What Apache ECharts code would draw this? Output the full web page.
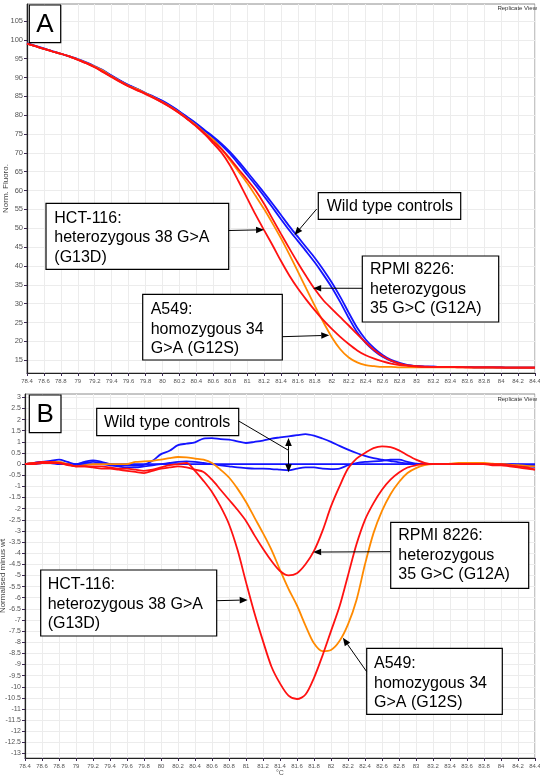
<!DOCTYPE html>
<html style="height: 100%">

<head>
  <meta charset="utf-8">
</head>

<body style="height: 100%; margin: 0; background: #fff">
  <div id="container" style="width: 540px; height: 780px"></div>
  <script type="text/javascript" src="https://cdn.jsdelivr.net/npm/echarts@6/dist/echarts.min.js"></script>
  <script type="text/javascript">
  // temperatures (°C) shared by every curve
  var temps = [78.4, 78.5, 78.6, 78.7, 78.8, 78.9, 79.0, 79.1, 79.2, 79.3, 79.4, 79.5, 79.6, 79.7, 79.8, 79.9,
    80.0, 80.1, 80.2, 80.3, 80.4, 80.5, 80.6, 80.7, 80.8, 80.9, 81.0, 81.1, 81.2, 81.3, 81.4, 81.5, 81.6, 81.7,
    81.8, 81.9, 82.0, 82.1, 82.2, 82.3, 82.4, 82.5, 82.6, 82.7, 82.8, 82.9, 83.0, 83.1, 83.2, 83.3, 83.4, 83.5,
    83.6, 83.7, 83.8, 83.9, 84.0, 84.1, 84.2, 84.3, 84.4];

  // panel A: normalised fluorescence
  var wtA1 = [99.0, 98.3, 97.6, 96.9, 96.3, 95.6, 94.8, 93.9, 92.9, 91.8, 90.4, 89.1, 87.9, 86.9, 85.8, 84.8, 83.7, 82.4, 80.9, 79.3, 77.6, 75.8,
    74.0, 72.0, 69.7, 67.0, 64.2, 61.4, 58.5, 55.5, 52.4, 49.4, 46.6, 43.8, 40.9, 37.7, 34.3, 30.4, 26.2, 22.4, 19.6, 17.5, 15.9, 14.8, 14.1, 13.6, 13.4,
    13.3, 13.3, 13.2, 13.2, 13.2, 13.2, 13.1, 13.1, 13.1, 13.1, 13.0, 13.0, 13.0, 13.0];
  var wtA2 = [99.1, 98.4, 97.7, 97.0, 96.3, 95.6, 94.9, 94.0, 93.0, 91.9, 90.5, 89.2, 88.0, 87.0, 85.9, 84.9, 83.8, 82.5, 81.0, 79.4, 77.8, 76.0,
    74.3, 72.4, 70.2, 67.7, 65.0, 62.2, 59.4, 56.5, 53.5, 50.5, 47.7, 44.9, 42.1, 39.0, 35.6, 31.8, 27.6, 23.6, 20.5, 18.2, 16.4, 15.1, 14.3, 13.7, 13.4,
    13.3, 13.3, 13.2, 13.2, 13.2, 13.2, 13.1, 13.1, 13.1, 13.1, 13.0, 13.0, 13.0, 13.0];
  var a549A = [99.0, 98.3, 97.6, 96.9, 96.3, 95.6, 94.8, 93.9, 92.9, 91.8, 90.3, 89.0, 87.8, 86.9, 85.8, 84.7, 83.5, 82.2, 80.7, 79.0, 77.3, 75.3,
    73.5, 71.0, 68.0, 65.0, 62.0, 58.6, 55.1, 51.3, 47.3, 43.0, 38.5, 33.9, 29.4, 25.1, 21.1, 17.9, 15.7, 14.4, 13.7, 13.4, 13.2, 13.2, 13.1, 13.1, 13.1,
    13.1, 13.1, 13.1, 13.1, 13.1, 13.1, 13.0, 13.0, 13.0, 13.0, 13.0, 13.0, 13.0, 13.0];
  var hctA = [99.0, 98.3, 97.6, 96.9, 96.3, 95.6, 94.7, 93.8, 92.7, 91.4, 90.1, 88.8, 87.6, 86.6, 85.6, 84.5, 83.3, 82.0, 80.5, 78.8, 77.0, 74.9,
    72.5, 70.0, 66.6, 62.4, 58.0, 53.6, 49.5, 45.5, 41.3, 37.4, 34.0, 31.0, 28.2, 25.6, 23.3, 21.2, 19.3, 17.6, 16.3, 15.4, 14.7, 14.1, 13.7, 13.5, 13.3,
    13.2, 13.2, 13.2, 13.2, 13.1, 13.1, 13.1, 13.1, 13.1, 13.0, 13.0, 13.0, 13.0, 13.0];
  var rpmiA = [99.0, 98.3, 97.6, 96.9, 96.3, 95.6, 94.7, 93.8, 92.7, 91.5, 90.2, 88.9, 87.7, 86.7, 85.7, 84.6, 83.4, 82.1, 80.6, 78.9, 77.1, 75.1,
    73.0, 70.9, 68.4, 65.6, 62.9, 60.0, 56.5, 52.5, 48.5, 44.6, 40.8, 37.2, 33.8, 30.9, 28.6, 26.4, 24.2, 21.9, 19.7, 17.7, 16.1, 14.9, 14.1, 13.6, 13.4,
    13.3, 13.2, 13.2, 13.2, 13.2, 13.1, 13.1, 13.1, 13.1, 13.1, 13.0, 13.0, 13.0, 13.0];

  // panel B: normalised minus wt
  var wtB1 = [0.0, 0.05, 0.1, 0.15, 0.2, 0.1, 0.0, 0.1, 0.17, 0.1, 0.0, -0.05, -0.05, -0.07, -0.03, 0.15, 0.45, 0.6, 0.85, 0.92, 0.98, 1.15,
    1.17, 1.12, 1.1, 1.02, 0.95, 1.0, 1.06, 1.15, 1.2, 1.25, 1.3, 1.35, 1.28, 1.15, 1.0, 0.82, 0.65, 0.5, 0.37, 0.27, 0.2, 0.14, 0.08, 0.03, 0.0,
    0.0, 0.0, 0.0, 0.0, 0.0, 0.0, 0.0, 0.0, 0.0, -0.03, -0.05, -0.08, -0.1, -0.12];
  var wtB2 = [0.0, 0.05, 0.1, 0.1, 0.05, 0.0, -0.05, 0.0, 0.0, 0.0, -0.05, -0.1, -0.15, -0.15, -0.1, -0.05, 0.0, 0.05, 0.1, 0.12, 0.1, 0.05,
    0.0, -0.05, -0.1, -0.15, -0.18, -0.2, -0.2, -0.22, -0.25, -0.28, -0.2, -0.15, -0.15, -0.2, -0.22, -0.2, -0.05, 0.05, 0.1, 0.12, 0.15, 0.2, 0.2, 0.1, 0.02,
    0.0, 0.0, 0.0, 0.0, 0.0, 0.0, 0.0, 0.0, 0.0, 0.0, 0.0, -0.02, -0.03, -0.05];
  var wtB3 = [0.0, 0.0, 0.05, 0.05, 0.0, 0.0, 0.0, 0.05, 0.1, 0.05, 0.0, 0.0, 0.0, 0.0, 0.0, 0.0, 0.0, 0.0, 0.0, 0.0, 0.0, 0.0,
    0.0, 0.0, 0.0, 0.0, 0.0, 0.0, 0.0, 0.0, 0.0, 0.0, 0.0, 0.0, 0.0, 0.0, 0.0, 0.0, 0.0, 0.0, 0.0, 0.0, 0.0, 0.0, 0.0, 0.0, 0.0,
    0.0, 0.0, 0.0, 0.0, 0.0, 0.0, 0.0, 0.0, 0.0, 0.0, 0.0, 0.0, 0.0, 0.0];
  var a549B = [0.0, 0.05, 0.05, 0.1, 0.1, 0.0, -0.1, -0.05, 0.0, 0.0, 0.0, 0.0, 0.0, 0.1, 0.12, 0.15, 0.2, 0.27, 0.32, 0.3, 0.25, 0.2,
    0.05, -0.25, -0.6, -1.1, -1.7, -2.4, -3.1, -3.85, -4.75, -5.6, -6.35, -7.25, -8.05, -8.4, -8.35, -7.95, -7.2, -6.1, -4.5, -3.1, -2.1, -1.35, -0.8, -0.4, -0.18,
    -0.05, 0.0, 0.0, 0.02, 0.05, 0.05, 0.05, 0.05, 0.02, 0.0, -0.02, -0.05, -0.08, -0.1];
  var hctB = [0.0, 0.05, 0.1, 0.1, 0.05, 0.0, -0.1, -0.1, -0.1, -0.1, -0.15, -0.2, -0.2, -0.25, -0.3, -0.25, -0.15, -0.05, 0.0, 0.05, -0.3, -0.75,
    -1.25, -1.9, -2.7, -3.85, -5.3, -6.7, -7.95, -9.1, -9.85, -10.4, -10.55, -10.35, -9.6, -8.6, -7.5, -6.4, -5.0, -3.6, -2.5, -1.75, -1.15, -0.7, -0.38, -0.15, -0.05,
    0.0, 0.0, 0.0, 0.0, 0.0, 0.0, 0.0, 0.0, 0.0, 0.0, -0.05, -0.1, -0.15, -0.25];
  var rpmiB = [0.0, 0.0, 0.05, 0.05, 0.05, -0.05, -0.1, -0.1, -0.15, -0.2, -0.2, -0.25, -0.3, -0.35, -0.4, -0.3, -0.2, -0.15, -0.1, -0.15, -0.25, -0.35,
    -0.7, -1.15, -1.6, -2.05, -2.55, -3.2, -3.8, -4.35, -4.8, -5.0, -4.9, -4.5, -3.9, -3.0, -1.9, -1.0, -0.2, 0.25, 0.5, 0.72, 0.8, 0.76, 0.62, 0.4, 0.2,
    0.06, 0.0, 0.0, 0.0, 0.0, 0.0, 0.0, 0.0, -0.05, -0.05, -0.1, -0.15, -0.2, -0.25];

  // tick labels
  var yTicksA = [15, 20, 25, 30, 35, 40, 45, 50, 55, 60, 65, 70, 75, 80, 85, 90, 95, 100, 105];
  var yTicksB = [-13, -12.5, -12, -11.5, -11, -10.5, -10, -9.5, -9, -8.5, -8, -7.5, -7, -6.5, -6, -5.5, -5, -4.5,
    -4, -3.5, -3, -2.5, -2, -1.5, -1, -0.5, 0, 0.5, 1, 1.5, 2, 2.5, 3];

  var BLUE = '#1414ff', RED = '#ff1111', ORANGE = '#ff8a00';
  var FONT = '"Liberation Sans", Arial, sans-serif';

  function pairs(vals) {
    return temps.map(function (t, i) { return [t, vals[i]]; });
  }

  function line(name, vals, color, idx) {
    return {
      name: name, type: 'line', xAxisIndex: idx, yAxisIndex: idx,
      data: pairs(vals), showSymbol: false, smooth: 0.3,
      lineStyle: { color: color, width: 1.8 }, itemStyle: { color: color }
    };
  }

  function xAxis(idx, name) {
    return {
      gridIndex: idx, type: 'value', min: 78.4, max: 84.4, interval: 0.2,
      name: name, nameLocation: 'middle', nameGap: 12,
      nameTextStyle: { fontSize: 7, color: '#555', fontFamily: FONT },
      axisLine: { show: true, onZero: false, lineStyle: { color: '#222', width: 1.2 } },
      axisTick: { show: true, length: 3, lineStyle: { color: '#3b2850' } },
      axisLabel: { fontSize: 6, color: '#555', margin: 5, fontFamily: FONT },
      splitLine: { show: true, lineStyle: { color: '#ececec', width: 1 } }
    };
  }

  function yAxis(idx, min, max, ticks, name, size, gap) {
    return {
      gridIndex: idx, type: 'value', min: min, max: max,
      name: name, nameLocation: 'middle', nameGap: gap, nameRotate: 90, nameMoveOverlap: false,
      nameTextStyle: { fontSize: 8, color: '#444', fontFamily: FONT },
      axisLine: { show: true, lineStyle: { color: '#222', width: 1.2 } },
      axisTick: { show: true, length: 3, customValues: ticks, lineStyle: { color: '#3b2850' } },
      axisLabel: { customValues: ticks, fontSize: size, color: '#555', margin: 4, fontFamily: FONT },
      splitLine: { show: true, lineStyle: { color: '#ececec', width: 1 } }
    };
  }

  var dom = document.getElementById('container');
  var myChart = echarts.init(dom);

  var option = {
    animation: false,
    backgroundColor: '#fff',
    grid: [
      { left: 27, right: 5, top: 4, height: 369, outerBoundsMode: 'none', containLabel: false, show: true, borderColor: '#8c8c8c', borderWidth: 1, backgroundColor: '#fff' },
      { left: 25, right: 5, top: 394, height: 364, outerBoundsMode: 'none', containLabel: false, show: true, borderColor: '#8c8c8c', borderWidth: 1, backgroundColor: '#fff' }
    ],
    xAxis: [xAxis(0, ''), xAxis(1, '°C')],
    yAxis: [
      yAxis(0, 11.6, 109.5, yTicksA, 'Norm. Fluoro.', 7.5, 17),
      yAxis(1, -13.2, 3.15, yTicksB, 'Normalised minus wt', 7, 18)
    ],
    series: [
      line('WT 1', wtA1, BLUE, 0),
      line('WT 2', wtA2, BLUE, 0),
      line('A549', a549A, ORANGE, 0),
      line('RPMI 8226', rpmiA, RED, 0),
      line('HCT-116', hctA, RED, 0),
      line('WT 1', wtB1, BLUE, 1),
      line('WT 2', wtB2, BLUE, 1),
      line('WT 3', wtB3, BLUE, 1),
      line('A549', a549B, ORANGE, 1),
      line('RPMI 8226', rpmiB, RED, 1),
      line('HCT-116', hctB, RED, 1)
    ]
  };
  myChart.setOption(option);

  // annotation boxes: box and text in pixels, arrow tip in data units
  var notes = [
    { grid: 0, lines: ['HCT-116:', 'heterozygous 38 G>A', '(G13D)'], box: [46, 203.3, 182.7, 66], text: [54.3, 208.9], from: [228.7, 230.5], to: [81.2, 49.6] },
    { grid: 0, lines: ['A549:', 'homozygous 34', 'G>A (G12S)'], box: [142.7, 294.3, 139.6, 65.7], text: [150.7, 300.4], from: [282.3, 336.7], to: [81.97, 21.6] },
    { grid: 0, lines: ['Wild type controls'], box: [318.3, 192.7, 142.4, 26.6], text: [326.7, 196.8], from: [316.7, 209], to: [81.56, 48.2] },
    { grid: 0, lines: ['RPMI 8226:', 'heterozygous', '35 G>C (G12A)'], box: [362.3, 256, 136.4, 66], text: [370, 260.4], from: [362.3, 288.3], to: [81.78, 34.1] },
    { grid: 1, lines: ['RPMI 8226:', 'heterozygous', '35 G>C (G12A)'], box: [390.7, 522.3, 138, 66], text: [398.3, 526.4], from: [390.7, 551.7], to: [81.79, -3.95] },
    { grid: 1, lines: ['HCT-116:', 'heterozygous 38 G>A', '(G13D)'], box: [40.7, 570, 176, 66], text: [47.7, 575.4], from: [216.7, 600.7], to: [81.02, -6.1] },
    { grid: 1, lines: ['A549:', 'homozygous 34', 'G>A (G12S)'], box: [366.7, 648.3, 135.6, 66], text: [374, 654.4], from: [366.7, 671.7], to: [82.14, -7.8] },
    { grid: 1, lines: ['Wild type controls'], box: [96.7, 408.3, 142, 27.4], text: [104, 412.6], from: [238.7, 421] }
  ];
  // double arrow between the two wild-type traces in panel B
  var wtSpan = { top: [81.5, 1.17], mid: [81.5, 0.62], bottom: [81.5, -0.37] };

  function arrow(x1, y1, x2, y2) {
    var dx = x2 - x1, dy = y2 - y1, len = Math.sqrt(dx * dx + dy * dy);
    var ux = dx / len, uy = dy / len, hl = 8, hw = 3.3;
    var bx = x2 - ux * hl, by = y2 - uy * hl;
    return [
      { type: 'line', z: 50, shape: { x1: x1, y1: y1, x2: bx, y2: by }, style: { stroke: '#000', lineWidth: 1 } },
      { type: 'polygon', z: 50, shape: { points: [[x2, y2], [bx - uy * hw, by + ux * hw], [bx + uy * hw, by - ux * hw]] }, style: { fill: '#000' } }
    ];
  }

  function labelBox(x, y, w, h, letter) {
    return [
      { type: 'rect', z: 50, shape: { x: x, y: y, width: w, height: h }, style: { fill: '#fff', stroke: '#000', lineWidth: 1.2 } },
      { type: 'text', z: 51, style: { text: letter, x: x + w / 2, y: y + h / 2 + 1, align: 'center', verticalAlign: 'middle', fontSize: 26, fontFamily: FONT, fill: '#000' } }
    ];
  }

  var g = [];
  notes.forEach(function (n) {
    var b = n.box;
    g.push({ type: 'rect', z: 50, shape: { x: b[0], y: b[1], width: b[2], height: b[3] }, style: { fill: '#fff', stroke: '#000', lineWidth: 1.2 } });
    g.push({ type: 'text', z: 51, style: { text: n.lines.join('\n'), x: n.text[0], y: n.text[1], lineHeight: 19.3, fontSize: 16, fontFamily: FONT, fill: '#000', verticalAlign: 'top' } });
    if (n.to) {
      var p = myChart.convertToPixel({ gridIndex: n.grid }, n.to);
      g = g.concat(arrow(n.from[0], n.from[1], p[0], p[1]));
    }
  });

  var pTop = myChart.convertToPixel({ gridIndex: 1 }, wtSpan.top);
  var pMid = myChart.convertToPixel({ gridIndex: 1 }, wtSpan.mid);
  var pBot = myChart.convertToPixel({ gridIndex: 1 }, wtSpan.bottom);
  g.push({ type: 'line', z: 50, shape: { x1: 238.7, y1: 421, x2: pMid[0], y2: pMid[1] }, style: { stroke: '#000', lineWidth: 1 } });
  g = g.concat(arrow(pMid[0], pMid[1], pTop[0], pTop[1]));
  g = g.concat(arrow(pMid[0], pMid[1], pBot[0], pBot[1]));

  g = g.concat(labelBox(29.3, 5, 31.4, 37.7, 'A'));
  g = g.concat(labelBox(29.3, 395, 31.7, 37.7, 'B'));

  g.push({ type: 'text', z: 51, style: { text: 'Replicate View', x: 537, y: 8, align: 'right', verticalAlign: 'middle', fontSize: 6, fontFamily: FONT, fill: '#333' } });
  g.push({ type: 'text', z: 51, style: { text: 'Replicate View', x: 537, y: 399, align: 'right', verticalAlign: 'middle', fontSize: 6, fontFamily: FONT, fill: '#333' } });

  myChart.setOption({ graphic: g });
  </script>
</body>

</html>
